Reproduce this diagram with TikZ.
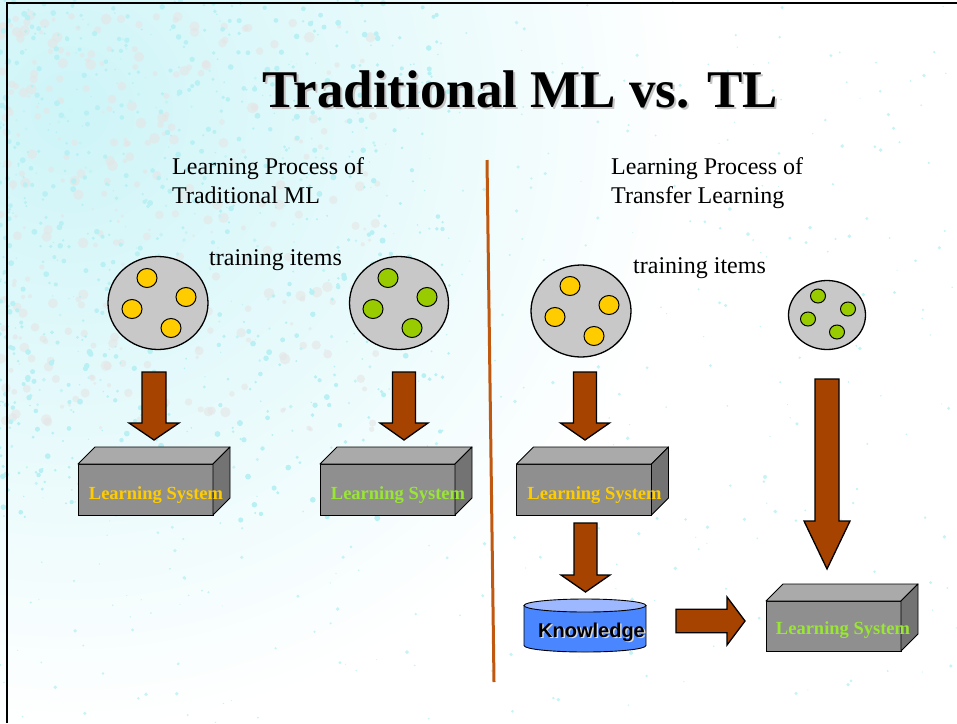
\documentclass[tikz,border=0pt]{standalone}
\usepackage{fontspec}
\setmainfont{Liberation Serif}
\newfontfamily\arialfont{Liberation Sans}
\usetikzlibrary{shapes.geometric}
\definecolor{arrbrown}{HTML}{A64300}
\definecolor{divline}{HTML}{C0580F}
\definecolor{ballgray}{HTML}{C8C8C8}
\definecolor{dotyellow}{HTML}{FFCC00}
\definecolor{dotgreen}{HTML}{99CC00}
\definecolor{txtgreen}{HTML}{99E633}
\definecolor{boxfront}{HTML}{8F8F8F}
\definecolor{boxtop}{HTML}{AAAAAA}
\definecolor{boxside}{HTML}{737373}
\definecolor{cylblue}{HTML}{4A86FF}
\definecolor{cyltop}{HTML}{9DB8FF}
\definecolor{speck}{HTML}{B8F0F4}
\newcommand\cubefaces[1]{%
  \draw[boxface, fill=boxtop] (#1.north west) -- ++(17,-17) -- ([shift={(17,-17)}]#1.north east) -- (#1.north east) -- cycle;
  \draw[boxface, fill=boxside] (#1.north east) -- ++(17,-17) -- ([shift={(17,-17)}]#1.south east) -- (#1.south east) -- cycle;
}
\tikzset{
  itemset/.style={ellipse, draw=black, line width=1.3pt, fill=ballgray, inner sep=0pt},
  dotitem/.style={ellipse, draw=black, line width=1pt, inner sep=0pt, minimum width=20pt, minimum height=19pt},
  smalldot/.style={dotitem, minimum width=15pt, minimum height=14pt},
  blk/.style={fill=arrbrown, draw=black, line width=1.3pt, line join=miter},
  boxfrontst/.style={draw=black, fill=boxfront, line width=0.9pt, minimum width=135pt, minimum height=51pt, inner sep=0pt, outer sep=0pt},
  boxface/.style={draw=black, line width=0.9pt, line join=round},
  systxt/.style={font=\fontsize{18.5}{20}\selectfont\bfseries, anchor=base, inner sep=0pt},
  plaintxt/.style={font=\fontsize{24}{29}\selectfont, anchor=base west, inner sep=0pt},
  titletxt/.style={font=\fontsize{53}{60}\selectfont\bfseries, anchor=base west, inner sep=0pt},
  divider/.style={draw=divline, line width=3pt},
  pics/blkdown/.style args={#1/#2/#3/#4}{code={
    \draw[blk] (-#2,0) -- (-#2,{#1-#4}) -- (-#3,{#1-#4}) -- (0,#1) -- (#3,{#1-#4}) -- (#2,{#1-#4}) -- (#2,0) -- cycle;}},
  pics/blkright/.style args={#1/#2/#3/#4}{code={
    \draw[blk] (0,-#2) -- ({#1-#4},-#2) -- ({#1-#4},-#3) -- (#1,0) -- ({#1-#4},#3) -- ({#1-#4},#2) -- (0,#2) -- cycle;}},
}
\begin{document}
\begin{tikzpicture}[x=1pt,y=-1pt]
\useasboundingbox (0,0) rectangle (957,723);
% background texture
\begin{scope}
\clip (0,0) rectangle (957,723);
\fill[white] (0,0) rectangle (957,723);
\shade[inner color=speck!70, outer color=white] (70,110) circle (620);
\pgfmathsetseed{42}
\foreach \i in {1,...,320}{
  \pgfmathsetmacro\px{380*rnd^1.3}
  \pgfmathsetmacro\py{15+420*rnd^1.1}
  \pgfmathsetmacro\pr{1.5+4*rnd}
  \fill[gray!20, opacity=0.6] (\px,\py) circle (\pr);
}
\foreach \i in {1,...,700}{
  \pgfmathsetmacro\px{450*rnd^1.5}
  \pgfmathsetmacro\py{520*rnd^1.2}
  \pgfmathsetmacro\pr{0.6+2.4*rnd}
  \fill[speck] (\px,\py) circle (\pr);
}
\foreach \i in {1,...,450}{
  \pgfmathsetmacro\px{957*rnd}
  \pgfmathsetmacro\py{723*rnd}
  \pgfmathsetmacro\pr{0.5+1.5*rnd}
  \fill[speck!80] (\px,\py) circle (\pr);
}
\end{scope}
% frame
\draw[line width=2.5pt] (7,723) -- (7,3) -- (957,3);
% title
\node[titletxt, text=gray!45] at (264,109) {Traditional ML vs. TL};
\node[titletxt] (title) at (262,107) {Traditional ML vs. TL};
% headings
\node[plaintxt] (h1a) at (172,174) {Learning Process of};
\node[plaintxt] (h1b) at (172,203) {Traditional ML};
\node[plaintxt] (h2a) at (611,174) {Learning Process of};
\node[plaintxt] (h2b) at (611,203) {Transfer Learning};
\node[plaintxt] (ti1) at (209,265) {training items};
\node[plaintxt] (ti2) at (633,273) {training items};
% divider
\coordinate (dtop) at (487,160);
\coordinate (dbot) at (494,682);
\draw[divider] (dtop) -- (dbot);
% item sets
\node[itemset, minimum width=100pt, minimum height=93pt] (e1) at (158,303) {};
\node[itemset, minimum width=99pt, minimum height=93pt] (e2) at (399,303) {};
\node[itemset, minimum width=100pt, minimum height=92pt] (e3) at (581,311) {};
\node[itemset, minimum width=77pt, minimum height=69pt] (e4) at (827,315) {};
\foreach \e/\c in {e1/dotyellow, e2/dotgreen, e3/dotyellow}{
  \node[dotitem, fill=\c] (\e d1) at ([shift={(-11,-25)}]\e.center) {};
  \node[dotitem, fill=\c] (\e d2) at ([shift={(28,-6)}]\e.center) {};
  \node[dotitem, fill=\c] (\e d3) at ([shift={(-26,6)}]\e.center) {};
  \node[dotitem, fill=\c] (\e d4) at ([shift={(13,25)}]\e.center) {};
}
\node[smalldot, fill=dotgreen] (e4d1) at ([shift={(-9,-19)}]e4.center) {};
\node[smalldot, fill=dotgreen] (e4d2) at ([shift={(21,-6)}]e4.center) {};
\node[smalldot, fill=dotgreen] (e4d3) at ([shift={(-19,4)}]e4.center) {};
\node[smalldot, fill=dotgreen] (e4d4) at ([shift={(10,17)}]e4.center) {};
% boxes
\node[boxfrontst] (b1) at (145.5,489.5) {};
\node[boxfrontst] (b2) at (387.5,489.5) {};
\node[boxfrontst] (b3) at (584,489.5) {};
\node[boxfrontst, minimum height=50pt] (b4) at (833.5,626) {};
\cubefaces{b1}
\cubefaces{b2}
\cubefaces{b3}
\cubefaces{b4}
\node[systxt, text=dotyellow] (t1) at (156,499) {Learning System};
\node[systxt, text=txtgreen] (t2) at (398,499) {Learning System};
\node[systxt, text=dotyellow] (t3) at (594.5,499) {Learning System};
\node[systxt, text=txtgreen] (t4) at (843,634) {Learning System};
% knowledge cylinder
\fill[cylblue, draw=black, line width=0.9pt] (524,605.5) -- (524,645.5) arc[start angle=180, end angle=0, x radius=61, y radius=6.5] -- (646,605.5) -- cycle;
\draw[fill=cyltop, line width=0.9pt] (585,605.5) ellipse [x radius=61, y radius=6.5];
\node[font=\arialfont\fontsize{20}{22}\selectfont\bfseries, anchor=base, inner sep=0pt, text=white!70!gray] at (593,638.5) {Knowledge};
\node[font=\arialfont\fontsize{20}{22}\selectfont\bfseries, anchor=base, inner sep=0pt] (kn) at (591.5,637) {Knowledge};
% block arrows
\path (154,372) pic {blkdown=68/12/25/17};
\path (404,372) pic {blkdown=68/11.5/24/17};
\path (585,372) pic {blkdown=68/11.5/24.5/17};
\path (585.5,523) pic {blkdown=69/11.5/24.5/17};
\path (827,379) pic {blkdown=190/12/23/48};
\path (676,621) pic {blkright=69/11.7/24/18};
\end{tikzpicture}
\end{document}
